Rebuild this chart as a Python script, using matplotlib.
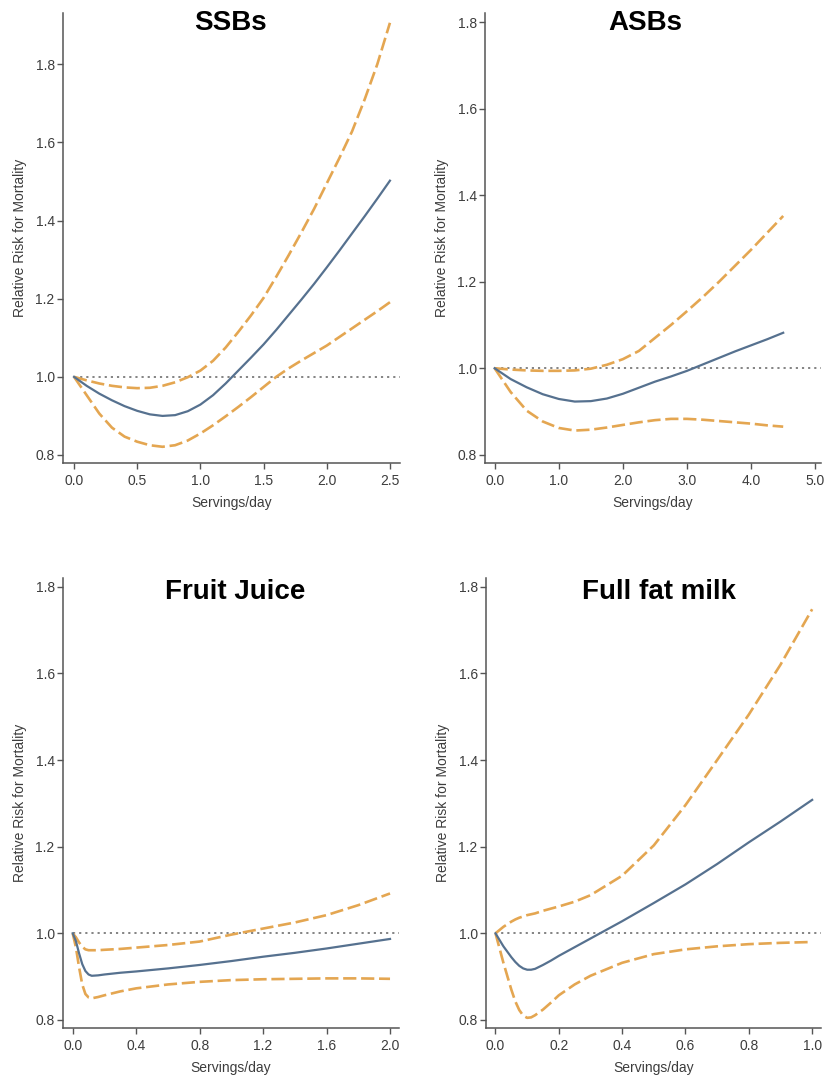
import matplotlib
matplotlib.use('Agg')
import matplotlib.pyplot as plt

plt.rcParams['font.family'] = ['Liberation Sans', 'DejaVu Sans']

titles = ['SSBs', 'ASBs', 'Fruit Juice', 'Full fat milk']

# SSBs
ssb_x = [0.0, 0.1, 0.2, 0.3, 0.4, 0.5, 0.6, 0.7, 0.8, 0.9, 1.0, 1.1, 1.2,
         1.3, 1.4, 1.5, 1.6, 1.7, 1.8, 1.9, 2.0, 2.1, 2.2, 2.3, 2.4, 2.5]
ssb_rr = [1.000, 0.977, 0.957, 0.940, 0.925, 0.913, 0.904, 0.900, 0.902, 0.912,
          0.929, 0.953, 0.983, 1.016, 1.049, 1.083, 1.120, 1.159, 1.198, 1.238,
          1.280, 1.323, 1.367, 1.411, 1.456, 1.502]
ssb_hi = [1.000, 0.991, 0.983, 0.977, 0.973, 0.971, 0.972, 0.977, 0.986, 0.999,
          1.016, 1.041, 1.075, 1.115, 1.157, 1.202, 1.256, 1.312, 1.370, 1.430,
          1.495, 1.560, 1.628, 1.710, 1.800, 1.906]
ssb_lo = [1.000, 0.953, 0.906, 0.870, 0.847, 0.834, 0.825, 0.821, 0.825, 0.837,
          0.855, 0.876, 0.899, 0.923, 0.948, 0.974, 1.000, 1.022, 1.042, 1.061,
          1.080, 1.102, 1.124, 1.146, 1.168, 1.191]

# ASBs
asb_x = [0.0, 0.25, 0.5, 0.75, 1.0, 1.25, 1.5, 1.75, 2.0, 2.25, 2.5, 2.75,
         3.0, 3.25, 3.5, 3.75, 4.0, 4.25, 4.5]
asb_rr = [1.000, 0.975, 0.956, 0.940, 0.929, 0.923, 0.924, 0.930, 0.941, 0.955,
          0.969, 0.981, 0.994, 1.009, 1.024, 1.039, 1.053, 1.067, 1.082]
asb_hi = [1.000, 0.997, 0.995, 0.994, 0.994, 0.995, 0.999, 1.008, 1.021, 1.040,
          1.070, 1.100, 1.132, 1.165, 1.200, 1.237, 1.274, 1.313, 1.352]
asb_lo = [1.000, 0.945, 0.902, 0.877, 0.862, 0.856, 0.858, 0.863, 0.869, 0.875,
          0.880, 0.883, 0.883, 0.881, 0.878, 0.875, 0.872, 0.868, 0.865]

# Fruit juice
fj_x = [0.0, 0.02, 0.04, 0.06, 0.08, 0.1, 0.12, 0.16, 0.2, 0.3, 0.4, 0.6, 0.8,
        1.0, 1.2, 1.4, 1.6, 1.8, 2.0]
fj_rr = [1.000, 0.982, 0.954, 0.929, 0.913, 0.905, 0.902, 0.903, 0.905, 0.909,
         0.912, 0.919, 0.927, 0.936, 0.946, 0.955, 0.965, 0.976, 0.987]
fj_hi = [1.000, 0.991, 0.979, 0.969, 0.963, 0.961, 0.961, 0.961, 0.962, 0.964,
         0.967, 0.973, 0.981, 0.997, 1.011, 1.025, 1.042, 1.065, 1.092]
fj_lo = [1.000, 0.968, 0.922, 0.882, 0.860, 0.852, 0.850, 0.853, 0.857, 0.866,
         0.873, 0.882, 0.888, 0.892, 0.894, 0.895, 0.896, 0.896, 0.895]

# Full fat milk
ffm_x = [0.0, 0.025, 0.05, 0.0625, 0.075, 0.0875, 0.1, 0.1125, 0.125, 0.15,
         0.175, 0.2, 0.25, 0.3, 0.4, 0.5, 0.6, 0.7, 0.8, 0.9, 1.0]
ffm_rr = [1.000, 0.970, 0.945, 0.934, 0.925, 0.919, 0.916, 0.916, 0.918, 0.927,
          0.937, 0.948, 0.968, 0.988, 1.028, 1.070, 1.113, 1.160, 1.210, 1.258,
          1.308]
ffm_hi = [1.000, 1.015, 1.027, 1.032, 1.036, 1.039, 1.042, 1.044, 1.046, 1.052,
          1.057, 1.062, 1.073, 1.088, 1.133, 1.203, 1.296, 1.400, 1.505, 1.620,
          1.748]
ffm_lo = [1.000, 0.932, 0.870, 0.843, 0.823, 0.810, 0.805, 0.806, 0.811, 0.824,
          0.840, 0.857, 0.882, 0.902, 0.932, 0.952, 0.963, 0.970, 0.975, 0.978,
          0.980]

xticks = [[0.0, 0.5, 1.0, 1.5, 2.0, 2.5],
          [0.0, 1.0, 2.0, 3.0, 4.0, 5.0],
          [0.0, 0.4, 0.8, 1.2, 1.6, 2.0],
          [0.0, 0.2, 0.4, 0.6, 0.8, 1.0]]
yticks = [0.8, 1.0, 1.2, 1.4, 1.6, 1.8]

data = [(ssb_x, ssb_rr, ssb_hi, ssb_lo),
        (asb_x, asb_rr, asb_hi, asb_lo),
        (fj_x, fj_rr, fj_hi, fj_lo),
        (ffm_x, ffm_rr, ffm_hi, ffm_lo)]

# layout (figure fractions) and axis ranges
pos = [[0.0765, 0.5701, 0.409, 0.4178],
       [0.5886, 0.5701, 0.4078, 0.4178],
       [0.0765, 0.0455, 0.4078, 0.4178],
       [0.5898, 0.0455, 0.4066, 0.4178]]
xlims = [(-0.087, 2.58), (-0.15, 5.09), (-0.061, 2.057), (-0.03, 1.028)]
ylims = [(0.7795, 1.931), (0.781, 1.821), (0.7815, 1.82), (0.7815, 1.82)]
title_xy = [(0.496, 0.978), (0.476, 0.978), (0.512, 0.970), (0.516, 0.970)]

blue = '#56718f'
orange = '#e4a651'
grey = '#3d3d3d'

fig = plt.figure(figsize=(8.24, 10.77), dpi=100)

for i in range(4):
    X, RR, HI, LO = data[i]
    ax = fig.add_axes(pos[i])
    ax.hlines(1.0, 0, xlims[i][1], colors='#7a7a7a', linestyles=(0, (1.2, 2.2)), lw=1.3)
    ax.plot(X, HI, color=orange, lw=1.9, dashes=(5, 1.8), dash_joinstyle='round')
    ax.plot(X, LO, color=orange, lw=1.9, dashes=(5, 1.8), dash_joinstyle='round')
    ax.plot(X, RR, color=blue, lw=1.6, solid_joinstyle='round')
    ax.set_xlim(xlims[i])
    ax.set_ylim(ylims[i])
    ax.set_xticks(xticks[i])
    ax.set_xticklabels(['%.1f' % t for t in xticks[i]])
    ax.set_yticks(yticks)
    ax.set_yticklabels(['%.1f' % t for t in yticks])
    for s in ['top', 'right']:
        ax.spines[s].set_visible(False)
    for s in ['left', 'bottom']:
        ax.spines[s].set_color('#555555')
        ax.spines[s].set_linewidth(1.1)
    ax.tick_params(axis='both', length=4, width=1, color='#555555',
                   labelsize=10, labelcolor=grey)
    ax.tick_params(axis='x', pad=4)
    ax.tick_params(axis='y', pad=2)
    ax.set_xlabel('Servings/day', fontsize=10, color=grey, labelpad=6)
    ax.set_ylabel('Relative Risk for Mortality', fontsize=10, color=grey, labelpad=6)
    ax.text(title_xy[i][0], title_xy[i][1], titles[i], transform=ax.transAxes,
            ha='center', va='center', fontsize=20, fontweight='bold')

fig.savefig('out.png', dpi=100)
